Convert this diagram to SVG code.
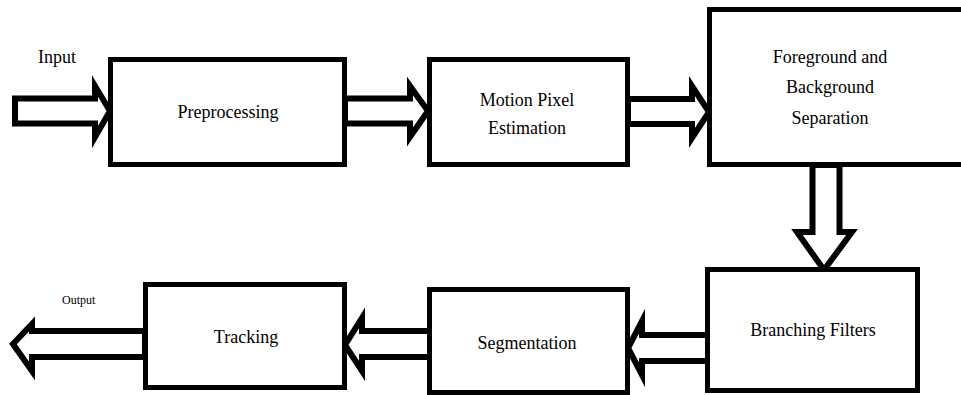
<svg xmlns="http://www.w3.org/2000/svg" width="961" height="395" viewBox="0 0 961 395">
<style>
.box{fill:#fff;stroke:#000;stroke-width:5}
.arr{fill:#fff;stroke:#000;stroke-width:6;stroke-linejoin:miter;stroke-miterlimit:10}
.t{font-family:"Liberation Serif","DejaVu Serif",serif;font-size:18px;fill:#000;text-anchor:middle}
.s{font-family:"Liberation Serif","DejaVu Serif",serif;font-size:12px;fill:#000}
</style>
<rect width="961" height="395" fill="#fff"/>
<g id="connectors">
<polygon class="arr" points="15,98.5 95,98.5 95,86 110,111 95,137 95,123.5 15,123.5"/>
<polygon class="arr" points="345,98.5 410,98.5 410,86 428,111 410,137 410,123.5 345,123.5"/>
<polygon class="arr" points="628,99 692,99 692,86 709,112 692,138 692,124 628,124"/>
<polygon class="arr" points="812.5,165 839.5,165 839.5,232 852,232 824,270 797,232 812.5,232"/>
<polygon class="arr" points="708,335 642,335 642,321 628,348 642,375 642,361 708,361"/>
<polygon class="arr" points="430,331 362,331 362,318 345,345 362,371 362,357 430,357"/>
<polygon class="arr" points="145,331 32,331 32,324 13,344 32,371 32,357 145,357"/>
</g>
<g id="preprocessing">
<rect class="box" x="110.5" y="59.5" width="234" height="105"/>
<text class="t" x="228" y="118">Preprocessing</text>
</g>
<g id="motion">
<rect class="box" x="429.5" y="59.5" width="198" height="105"/>
<text class="t" x="527" y="106">Motion Pixel</text>
<text class="t" x="527" y="134">Estimation</text>
</g>
<g id="foreground">
<rect class="box" x="709.5" y="9.5" width="270" height="155"/>
<text class="t" x="830" y="63">Foreground and</text>
<text class="t" x="830" y="93">Background</text>
<text class="t" x="830" y="124">Separation</text>
</g>
<g id="branching">
<rect class="box" x="707.5" y="269.5" width="210" height="121"/>
<text class="t" x="813" y="336">Branching Filters</text>
</g>
<g id="segmentation">
<rect class="box" x="429.5" y="289.5" width="198" height="103"/>
<text class="t" x="527" y="349">Segmentation</text>
</g>
<g id="tracking">
<rect class="box" x="145.5" y="284.5" width="199" height="103"/>
<text class="t" x="246" y="343">Tracking</text>
</g>
<g id="labels">
<text class="s" x="38" y="63" style="font-size:18px">Input</text>
<text class="s" x="62" y="304">Output</text>
</g>
</svg>
